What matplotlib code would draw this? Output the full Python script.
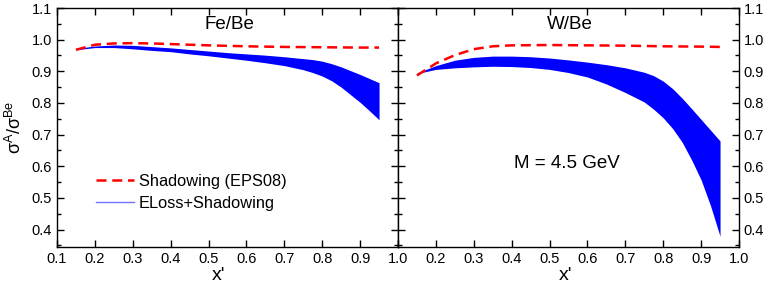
import numpy as np
import matplotlib
matplotlib.use('Agg')
import matplotlib.pyplot as plt
from matplotlib.ticker import MultipleLocator, FormatStrFormatter

plt.rcParams['font.family'] = ['Liberation Sans', 'DejaVu Sans']
plt.rcParams['mathtext.fontset'] = 'custom'
plt.rcParams['mathtext.rm'] = 'Liberation Sans'

# shadowing only (EPS08), dashed red
x_shad = [0.15, 0.2, 0.25, 0.3, 0.35, 0.4, 0.5, 0.6, 0.7, 0.8, 0.9, 0.95]
fe_shad = [0.968, 0.984, 0.988, 0.989, 0.988, 0.986, 0.982, 0.979, 0.977, 0.976, 0.975, 0.975]
w_shad = [0.887, 0.925, 0.951, 0.970, 0.979, 0.982, 0.983, 0.982, 0.981, 0.979, 0.978, 0.977]

# eloss + shadowing band (upper / lower edge)
x_band = [0.15, 0.2, 0.25, 0.3, 0.35, 0.4, 0.45, 0.5, 0.55, 0.6, 0.65, 0.7,
          0.75, 0.775, 0.8, 0.825, 0.85, 0.875, 0.9, 0.925, 0.95]
fe_up = [0.972, 0.980, 0.983, 0.982, 0.978, 0.974, 0.969, 0.964, 0.959, 0.955, 0.951, 0.946,
         0.940, 0.937, 0.932, 0.924, 0.914, 0.902, 0.890, 0.877, 0.864]
fe_lo = [0.968, 0.975, 0.975, 0.971, 0.966, 0.962, 0.955, 0.949, 0.942, 0.935, 0.927, 0.918,
         0.905, 0.896, 0.885, 0.870, 0.850, 0.826, 0.802, 0.775, 0.747]
w_up = [0.895, 0.918, 0.935, 0.944, 0.948, 0.948, 0.946, 0.942, 0.936, 0.929, 0.921, 0.911,
        0.897, 0.886, 0.869, 0.845, 0.815, 0.782, 0.748, 0.714, 0.680]
w_lo = [0.893, 0.906, 0.911, 0.914, 0.916, 0.915, 0.912, 0.906, 0.896, 0.882, 0.860, 0.833,
        0.803, 0.780, 0.753, 0.719, 0.676, 0.620, 0.557, 0.475, 0.379]

panels = ['Fe/Be', 'W/Be']

fig = plt.figure(figsize=(7.63, 2.88), dpi=100)
ax1 = fig.add_axes([57/763, 1-247/288, 341/763, 239/288])
ax2 = fig.add_axes([398/763, 1-247/288, 341/763, 239/288])

data = [(fe_shad, fe_up, fe_lo), (w_shad, w_up, w_lo)]
for ax, name, (shad, up, lo) in zip([ax1, ax2], panels, data):
    ax.fill_between(x_band, lo, up, color='#0000ff', lw=0)
    ax.plot(x_shad, shad, color='#ff0000', lw=1.8, dashes=(4.0, 2.3))
    ax.set_xlim(0.1, 1.0)
    ax.set_ylim(0.345, 1.1)
    ax.xaxis.set_major_locator(MultipleLocator(0.1))
    ax.yaxis.set_major_locator(MultipleLocator(0.1))
    ax.yaxis.set_minor_locator(MultipleLocator(0.05))
    ax.tick_params(which='both', direction='in', top=True, right=True, labelsize=10.5, width=1)
    ax.tick_params(which='major', length=5)
    ax.tick_params(which='minor', length=3)
    ax.xaxis.set_major_formatter(FormatStrFormatter('%.1f'))
    ax.yaxis.set_major_formatter(FormatStrFormatter('%.1f'))
    for s in ax.spines.values():
        s.set_linewidth(1.0)
    ax.text(0.505, 0.93, name, transform=ax.transAxes, ha='center', va='center', fontsize=13.5)

ax1.set_ylabel(r'$\mathregular{\sigma^{A}/\sigma^{Be}}$', fontsize=13)
ax1.yaxis.set_label_coords(-0.095, 0.5)
ax1.set_xlabel("x'", fontsize=14)
ax1.xaxis.set_label_coords(0.475, -0.085)

ax2.tick_params(labelleft=False, labelright=True)
ax2.set_xlabel("x'", fontsize=14)
ax2.xaxis.set_label_coords(0.49, -0.085)
ticks = np.arange(0.1, 1.01, 0.1)
ax2.set_xticks(ticks)
ax2.set_xticklabels(['' if i == 0 else '%.1f' % v for i, v in enumerate(ticks)])
ax2.text(0.496, 0.35, 'M = 4.5 GeV', transform=ax2.transAxes, ha='center', va='center', fontsize=13.5)

h1, = ax1.plot([], [], color='#ff0000', lw=1.8, dashes=(4.0, 2.3), label='Shadowing (EPS08)')
h2, = ax1.plot([], [], color='#0000ff', alpha=0.55, lw=1.0, label='ELoss+Shadowing')
ax1.legend(handles=[h1, h2], loc='center left', bbox_to_anchor=(0.115, 0.228), frameon=False,
           fontsize=11.8, handlelength=2.3, handletextpad=0.3, labelspacing=0.4,
           borderpad=0, borderaxespad=0)

plt.savefig('out.png', dpi=100)
